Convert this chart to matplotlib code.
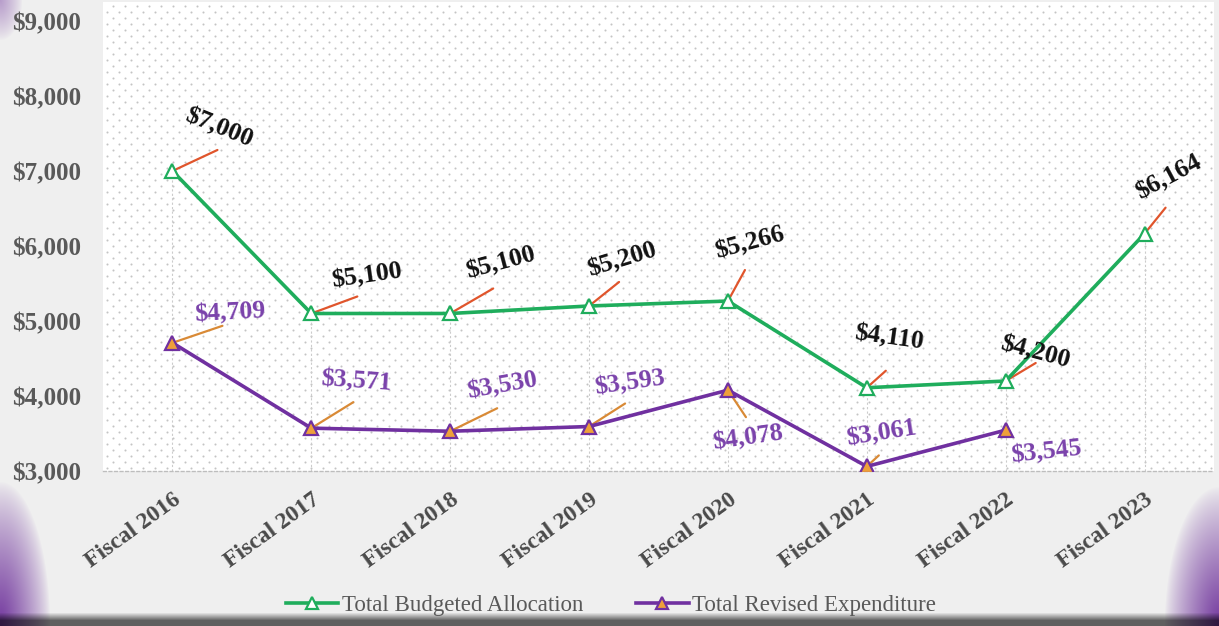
import numpy as np
import matplotlib
matplotlib.use("Agg")
import matplotlib.pyplot as plt
from matplotlib.ticker import FuncFormatter, MultipleLocator
from matplotlib.lines import Line2D

# categories and series
years = ["Fiscal 2016", "Fiscal 2017", "Fiscal 2018", "Fiscal 2019",
         "Fiscal 2020", "Fiscal 2021", "Fiscal 2022", "Fiscal 2023"]
budgeted = [7000, 5100, 5100, 5200, 5266, 4110, 4200, 6164]
revised = [4709, 3571, 3530, 3593, 4078, 3061, 3545]

GREEN = "#1fad5c"
PURPLE = "#7030a0"
SERIF = ["Liberation Serif", "DejaVu Serif"]

# label placement: (text dx, text dy, rotation, leader dx, leader dy) in pixels
budget_lbl = [(46, 43, -22, 45, 21), (55, 38, 8, 46, 17), (50, 51, 15, 43, 25),
              (33, 46, 17, 30, 24), (22, 58, 15, 17, 31), (22, 50, -8, 19, 17),
              (29, 29, -15, 30, 18), (24, 56, 28, 21, 26)]
revised_lbl = [(57, 30, 3, 50, 17), (45, 47, -4, 42, 26), (52, 45, 10, 47, 23),
               (41, 44, 8, 36, 23), (20, -48, 8, 18, -27), (15, 33, 9, 12, 11),
               (41, -22, 6, None, None)]

W, H = 1219, 626
fig = plt.figure(figsize=(W / 100, H / 100), dpi=100)

# backdrop: light grey with purple corner glow and a dark strip at the bottom
bg = fig.add_axes([0, 0, 1, 1], zorder=-10)
bg.axis("off")
yy, xx = np.mgrid[0:H, 0:W].astype(float)
img = np.full((H, W, 3), 0.94)
purple_rgb = np.array([0.45, 0.22, 0.62])

def glow(cx, cy, rx, ry, strength):
    d = np.sqrt(((xx - cx) / rx) ** 2 + ((yy - cy) / ry) ** 2)
    return np.clip(1 - d, 0, 1) ** 0.8 * strength

w = np.maximum.reduce([glow(0, H, 50, 145, 1.0),
                       glow(W, H, 55, 140, 1.0),
                       glow(0, 0, 22, 40, 0.45)])
img = img * (1 - w[..., None]) + purple_rgb * w[..., None]
strip = np.clip((yy - 612) / 8, 0, 1)
img = img * (1 - 0.6 * strip[..., None])
img = np.clip(img, 0, 1)
bg.imshow(img, extent=[0, 1, 0, 1], aspect="auto", origin="upper")
bg.set_xlim(0, 1)
bg.set_ylim(0, 1)

ax = fig.add_axes([103 / W, 1 - 471 / H, (1214 - 103) / W, (471 - 2) / H])
ax.set_facecolor("white")
x = np.arange(len(years))
ax.set_xlim(-0.5, len(years) - 0.5)
ax.set_ylim(3000, 9253)

# dotted pattern fill of the plot area
px_w, px_h = 1111, 469
gx, gy = np.meshgrid(np.arange(4, px_w, 12), np.arange(3, px_h, 6))
gx = gx + (np.arange(gx.shape[0])[:, None] % 2) * 6
ax.scatter(gx.ravel() / px_w, gy.ravel() / px_h, s=2.2, color="#c4c4c4",
           linewidths=0, transform=ax.transAxes, zorder=0)

# drop lines from the highest point to the axis
tops = [max(b, r) for b, r in zip(budgeted, revised)] + budgeted[len(revised):]
ax.vlines(x, 3000, tops, colors="#cccccc", linestyles=(0, (2, 2)), lw=0.8, zorder=1)

ax.plot(x, budgeted, color=GREEN, lw=2.6, marker="^", ms=10,
        mfc="white", mec=GREEN, mew=1.6, zorder=4)
ax.plot(x[:len(revised)], revised, color=PURPLE, lw=2.6, marker="^", ms=10,
        mfc="#eea03a", mec=PURPLE, mew=1.6, zorder=4)

def label(series, placement, color, leader):
    for i, (v, (dx, dy, rot, lx, ly)) in enumerate(zip(series, placement)):
        if lx is not None:
            ax.annotate("", xy=(i, v), xytext=(lx, ly), textcoords="offset pixels",
                        arrowprops=dict(arrowstyle="-", color=leader, lw=1.6,
                                        shrinkA=0, shrinkB=3), zorder=3)
        ax.annotate(f"${v:,}", xy=(i, v), xytext=(dx, dy), textcoords="offset pixels",
                    ha="center", va="center", rotation=rot, fontsize=18.5,
                    fontweight="bold", color=color, family=SERIF, zorder=5)

label(budgeted, budget_lbl, "#111111", "#e0552c")
label(revised, revised_lbl, "#7a42ab", "#d98a36")

ax.yaxis.set_major_locator(MultipleLocator(1000))
ax.yaxis.set_major_formatter(FuncFormatter(lambda v, p: f"${v:,.0f}"))
ax.set_xticks(x)
ax.set_xticklabels(years)
ax.tick_params(axis="y", length=0, pad=16, labelsize=18, labelcolor="#595959")
ax.tick_params(axis="x", length=0, pad=13, labelsize=17, labelcolor="#4a4a4a")
for t in ax.get_yticklabels():
    t.set_fontweight("bold")
    t.set_family(SERIF)
for t in ax.get_xticklabels():
    t.set_fontweight("bold")
    t.set_family(SERIF)
    t.set_rotation(36)
    t.set_ha("right")
    t.set_va("top")
    t.set_rotation_mode("anchor")

for s in ["top", "right", "left"]:
    ax.spines[s].set_visible(False)
ax.spines["bottom"].set_color("#bdbdbd")
ax.spines["bottom"].set_linestyle((0, (2, 2)))
ax.spines["bottom"].set_linewidth(1)

handles = [
    Line2D([], [], color=GREEN, lw=2.6, marker="^", ms=9, mfc="white", mec=GREEN, mew=1.6),
    Line2D([], [], color=PURPLE, lw=2.6, marker="^", ms=9, mfc="#eea03a", mec=PURPLE, mew=1.6),
]
fig.legend(handles, ["Total Budgeted Allocation", "Total Revised Expenditure"],
           loc="center", bbox_to_anchor=(0.501, 0.033), ncol=2, frameon=False,
           handlelength=2.3, handletextpad=0.15, columnspacing=2.3,
           prop=dict(family=SERIF, size=16.5), labelcolor="#595959")

fig.savefig("out.png", dpi=100)
